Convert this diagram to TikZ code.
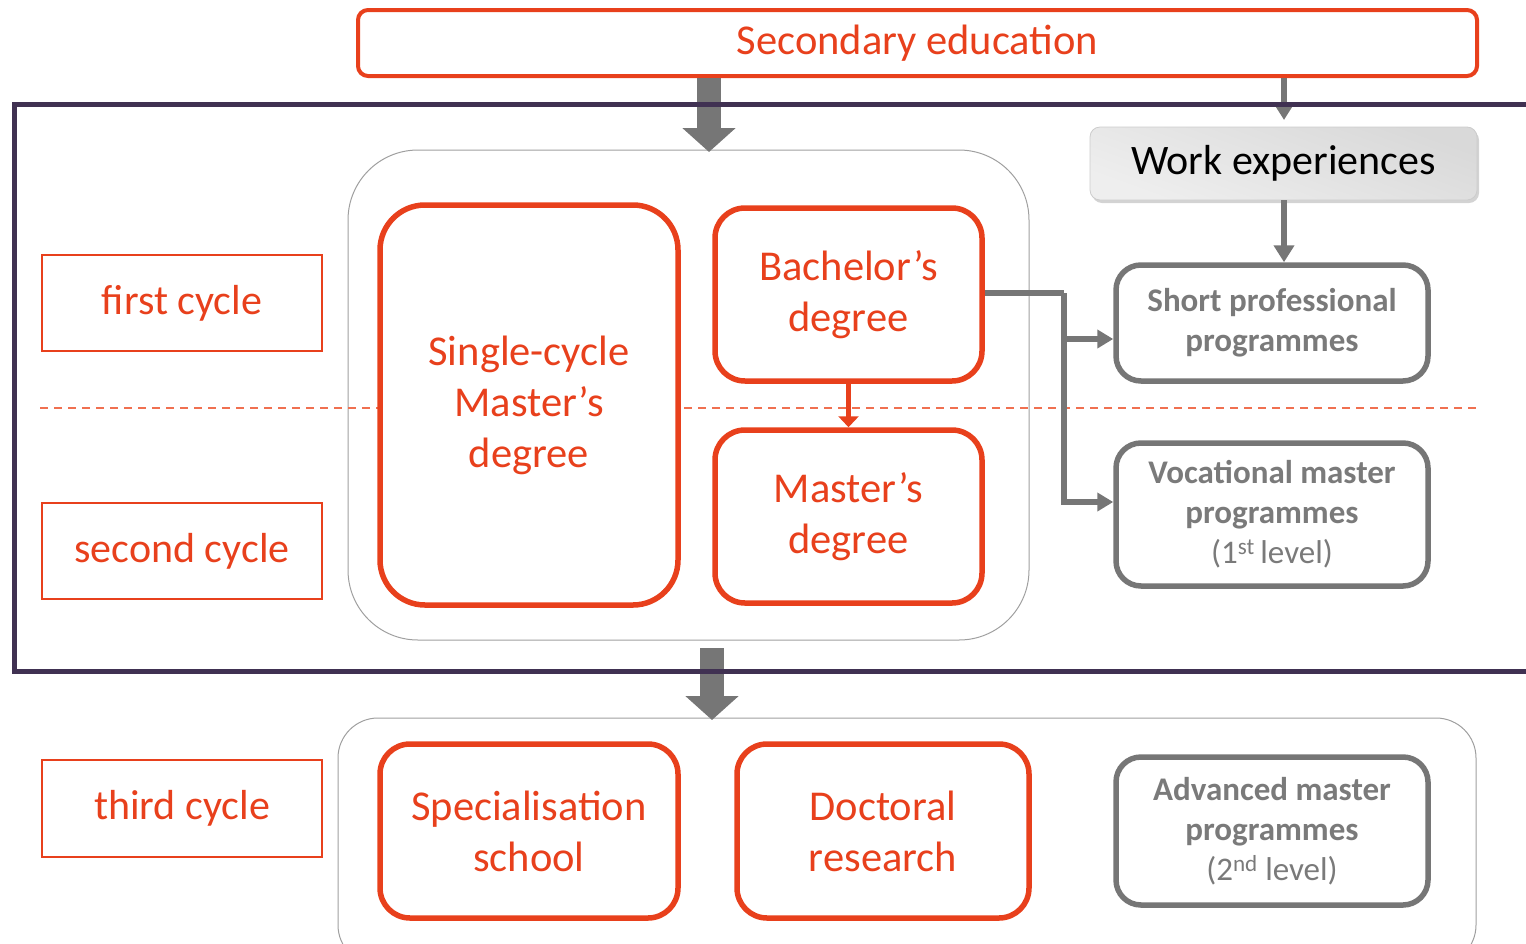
\documentclass[tikz,border=0pt]{standalone}
\usepackage{fontspec}
\setmainfont{Carlito}
\usetikzlibrary{arrows.meta,shadows,calc}
\definecolor{myred}{HTML}{E8401C}
\definecolor{dashred}{HTML}{F07050}
\definecolor{mygray}{HTML}{767676}
\definecolor{txtgray}{HTML}{7A7A7A}
\definecolor{mypurple}{HTML}{403152}
\begin{document}
\begin{tikzpicture}[x=1pt,y=-1pt,
  redbox/.style={draw=myred,line width=5.5pt,fill=white,rounded corners=#1,text=myred,align=center,
     inner sep=0pt,font=\fontsize{42.5}{51}\selectfont},
  redbox/.default=30pt,
  cyclebox/.style={draw=myred,line width=1.6pt,text=myred,minimum width=280pt,minimum height=96pt,
     inner sep=0pt,font=\fontsize{42}{46}\selectfont},
  graybox/.style={draw=mygray,line width=5.5pt,fill=white,rounded corners=25pt,text=txtgray,align=center,
     inner sep=0pt,minimum width=312pt,font=\fontsize{33}{40}\selectfont\bfseries},
  outerbox/.style={draw=gray!75,line width=1pt,rounded corners=#1},
  bigarrow/.style={draw=mygray,line width=24pt,-{Triangle[width=52pt,length=24pt]}},
  thinarrow/.style={draw=mygray,line width=5.5pt,-{Triangle[width=20pt,length=17pt]}},
  redarrow/.style={draw=myred,line width=5.5pt,-{Triangle[width=20pt,length=11pt]}},
]
\useasboundingbox (0,0) rectangle (1526,943);
% outer rounded boxes
\draw[outerbox=70pt] (348,150) rectangle (1029,640);
\coordinate (o1n) at (709,150);
\coordinate (o1s) at (712,648);
\draw[outerbox=40pt] (338,718) rectangle (1476,965);
\coordinate (o2n) at (712,718);
% dashed line
\draw[dashred,line width=1.6pt,dash pattern=on 8pt off 6pt] (40,408) -- (1477,408);
% secondary education
\node[draw=myred,line width=4pt,fill=white,rounded corners=10pt,text=myred,minimum width=1119pt,minimum height=66pt,
  inner sep=0pt,font=\fontsize{42.5}{46}\selectfont] (sec) at (917.5,43) {Secondary education};
% work experiences
\node[rounded corners=10pt,top color=gray!30,bottom color=gray!13,shading angle=-20,draw=gray!40,line width=0.8pt,
  drop shadow={opacity=0.35,shadow xshift=2pt,shadow yshift=-3pt},minimum width=387pt,minimum height=73pt,
  inner sep=0pt,font=\fontsize{42}{46}\selectfont] (work) at (1283.5,163.5) {Work experiences};
% cycle labels
\node[cyclebox] (c1) at (182,303) {first cycle};
\node[cyclebox] (c2) at (182,551) {second cycle};
\node[cyclebox,minimum height=97pt] (c3) at (182,808.5) {third cycle};
% red boxes
\node[redbox=45pt,minimum width=298pt,minimum height=400pt] (single) at (529,405) {Single-cycle\\Master’s\\degree};
\node[redbox,minimum width=267pt,minimum height=173pt] (bach) at (848.5,294.5) {Bachelor’s\\degree};
\node[redbox,minimum width=267pt,minimum height=173pt] (mast) at (848.5,516.5) {Master’s\\degree};
\node[redbox,minimum width=298pt,minimum height=174pt] (spec) at (529,831) {Specialisation\\school};
\node[redbox,minimum width=292pt,minimum height=174pt] (doc) at (883,831) {Doctoral\\research};
% gray boxes
\node[graybox,minimum height=116pt] (short) at (1272,323) {Short professional\\programmes};
\node[graybox,minimum height=143pt] (voc) at (1272,514.5) {Vocational master\\programmes\\{\mdseries(1\textsuperscript{st}\,level)}};
\node[graybox,minimum height=148pt] (adv) at (1272,831) {Advanced master\\programmes\\{\mdseries(2\textsuperscript{nd} level)}};
% connectors
\draw[bigarrow] (sec.south -| o1n) -- ($(o1n)+(0,2)$);
\draw[bigarrow] (o1s) -- ($(o2n)+(0,2)$);
\coordinate (s2) at (1284,120);
\draw[thinarrow] (sec.south -| s2) -- (s2);
\draw[thinarrow] (work.south -| s2) -- (short.north -| s2);
\draw[redarrow] (bach.south) -- (mast.north);
\coordinate (jx) at (1064,293);
\draw[draw=mygray,line width=5.5pt] (bach.east |- jx) -- (jx);
\draw[thinarrow,-{Triangle[width=18pt,length=16pt]}] (jx) |- ($(voc.west)+(0,-12.5)$);
\draw[thinarrow,-{Triangle[width=18pt,length=16pt]}] ($(jx)+(0,46)$) -- ($(short.west)+(0,16)$);
% purple frame
\draw[mypurple,line width=5pt] (1535,104) -- (14,104) -- (14,671) -- (1535,671);
\end{tikzpicture}
\end{document}
